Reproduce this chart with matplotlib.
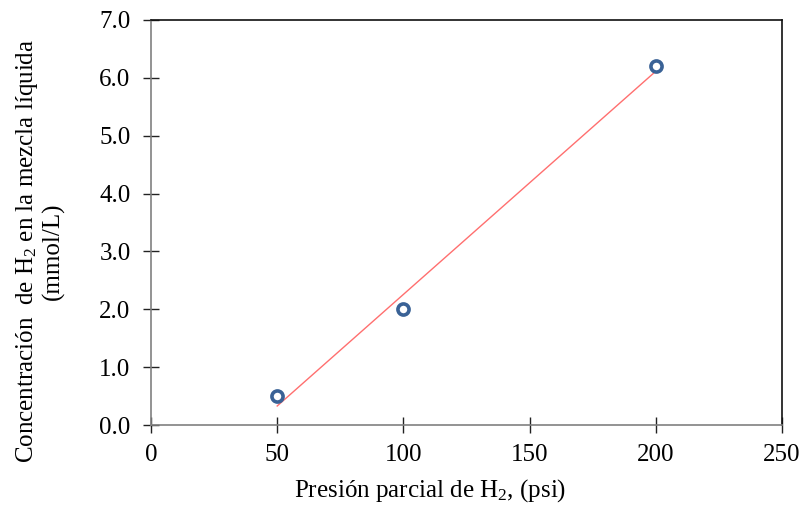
import numpy as np
import matplotlib
matplotlib.use("Agg")
import matplotlib.pyplot as plt

plt.rcParams['font.family'] = ['Liberation Serif', 'DejaVu Serif']
plt.rcParams['mathtext.fontset'] = 'custom'
plt.rcParams['mathtext.rm'] = 'Liberation Serif'
plt.rcParams['mathtext.it'] = 'Liberation Serif:italic'

# data
presion = [50, 100, 200]           # psi
concentracion = [0.5, 2.0, 6.2]    # mmol/L
xticks = [0, 50, 100, 150, 200, 250]
yticks = [0.0, 1.0, 2.0, 3.0, 4.0, 5.0, 6.0, 7.0]

# linear trendline through the measured points
m, b = np.polyfit(presion, concentracion, 1)
xfit = np.array([min(presion), max(presion)])
yfit = m*xfit + b

fig = plt.figure(figsize=(8.04, 5.05), dpi=100)
ax = fig.add_axes([151/804, 80/505, 631/804, 405/505])

ax.plot(xfit, yfit, color='#FF6F6F', lw=1.0, zorder=2)
ax.plot(presion, concentracion, 'o', ms=8, mfc='white', mec='#3A6296', mew=2.6,
        zorder=3, clip_on=False)

ax.set_xlim(0, 250)
ax.set_ylim(0, 7)
ax.set_xticks(xticks)
ax.set_yticks(yticks)
ax.set_yticklabels(["%.1f" % v for v in yticks])
ax.tick_params(axis='both', direction='inout', length=11.5, width=1, labelsize=18, color='#222222')
ax.tick_params(axis='x', pad=8)
ax.tick_params(axis='y', pad=9)

ax.spines['left'].set_color('#808080')
ax.spines['bottom'].set_color('#808080')
ax.spines['top'].set_color('#111111')
ax.spines['right'].set_color('#111111')
for s in ax.spines.values():
    s.set_linewidth(1.2)

fig.text(430/804, 1-497/505, "Presión parcial de H$_2$, (psi)", fontsize=18,
         ha='center', va='baseline')
fig.text(39/804, 1-251/505, "Concentración  de H$_2$ en la mezcla líquida\n(mmol/L)",
         fontsize=18, rotation=90, ha='center', va='center', multialignment='center',
         linespacing=1.1)

fig.savefig("out.png", dpi=100)
